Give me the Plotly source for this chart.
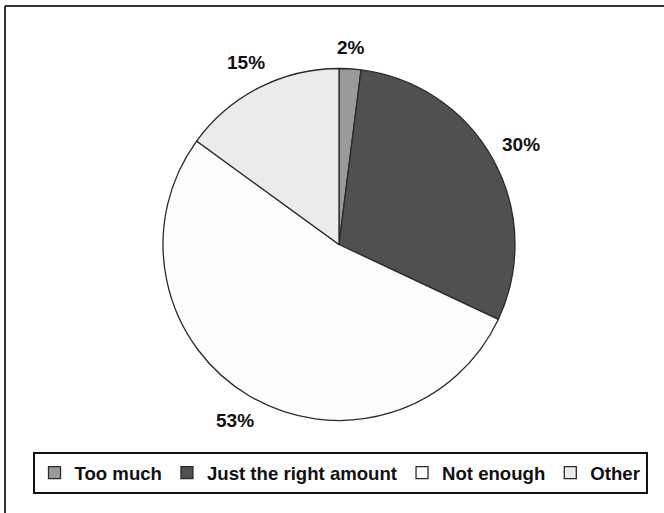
import math
import plotly.graph_objects as go

categories = ["Too much", "Just the right amount", "Not enough", "Other"]
values = [2, 30, 53, 15]
label_text = ["2%", "30%", "53%", "15%"]
colors = ["#9a9a9a", "#505050", "#fcfcfc", "#ebebeb"]

W, H = 664, 513
cx_px, cy_px, r_px = 339, 244.5, 176
FONT = "Liberation Sans, Arial, sans-serif"
FS = 19

fig = go.Figure(go.Pie(
    labels=categories,
    values=values,
    sort=False,
    direction="clockwise",
    rotation=0,
    textinfo="none",
    hoverinfo="label+percent",
    marker=dict(colors=colors, line=dict(color="#2a2a2a", width=1.3)),
    domain=dict(x=[(cx_px - r_px) / W, (cx_px + r_px) / W],
                y=[1 - (cy_px + r_px) / H, 1 - (cy_px - r_px) / H]),
    showlegend=True,
))

# outside labels placed from the data's slice mid-angles
total = sum(values)
cum = 0
annotations = []
for v, t in zip(values, label_text):
    mid = (cum + v / 2) / total * 2 * math.pi
    cum += v
    dx, dy = math.sin(mid), math.cos(mid)
    w = len(t) * 0.66 * FS
    h = FS
    ext = abs(dx) * w / 2 + abs(dy) * h / 2
    d = r_px + 11 + ext
    x = cx_px + dx * d
    y = cy_px - dy * d
    annotations.append(dict(
        x=x / W, y=1 - y / H, xref="paper", yref="paper",
        text="<b>%s</b>" % t, showarrow=False,
        xanchor="center", yanchor="middle",
        font=dict(family=FONT, size=FS, color="#111111"),
    ))

fig.update_layout(
    width=W, height=H,
    margin=dict(l=0, r=0, t=0, b=0),
    paper_bgcolor="white",
    plot_bgcolor="white",
    font=dict(family=FONT, size=FS, color="#111111"),
    annotations=annotations,
    legend=dict(
        orientation="h",
        x=340 / W, xanchor="center",
        y=1 - 452 / H, yanchor="top",
        bordercolor="#111111", borderwidth=2,
        bgcolor="white",
        font=dict(family=FONT, size=18.6, color="#111111", weight="bold"),
        itemwidth=30,
        traceorder="normal",
    ),
    shapes=[
        dict(type="line", xref="paper", yref="paper",
             x0=5 / W, x1=1, y0=1 - 6 / H, y1=1 - 6 / H,
             line=dict(color="#333333", width=2)),
        dict(type="line", xref="paper", yref="paper",
             x0=5 / W, x1=5 / W, y0=0, y1=1 - 6 / H,
             line=dict(color="#333333", width=2)),
    ],
)

fig.write_html(
    "out.html",
    config={"displayModeBar": False},
    post_script="document.body.style.margin='0';document.body.style.overflow='hidden';",
)
